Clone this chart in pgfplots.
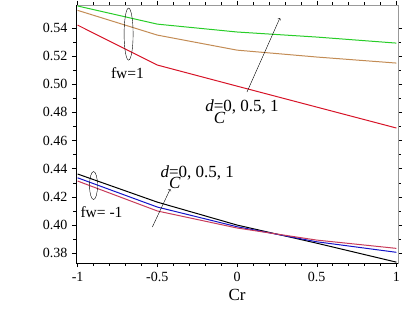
\documentclass[border=0pt]{standalone}
\usepackage{fontspec}
\setmainfont{Liberation Serif}
\usepackage{pgfplots}
\pgfplotsset{compat=1.18}
\definecolor{cgreen}{RGB}{40,205,40}
\definecolor{cbrown}{RGB}{195,140,85}
\definecolor{cred}{RGB}{215,20,40}
\definecolor{cblue}{RGB}{20,20,200}
\definecolor{cpink}{RGB}{200,60,90}
\begin{document}
\begin{tikzpicture}[x=1bp,y=1bp]
\begin{axis}[
  scale only axis, width=322bp, height=258bp,
  xmin=-1.01, xmax=1.01, ymin=0.3729, ymax=0.5564,
  xtick={-1,-0.5,0,0.5,1},
  ytick={0.38,0.40,0.42,0.44,0.46,0.48,0.50,0.52,0.54},
  minor x tick num=4, minor y tick num=1,
  tick align=outside, major tick length=4bp, minor tick length=2.5bp,
  tick style={black, thin},
  axis line style={gray!80, thin},
  /pgf/number format/assume math mode=true,
  yticklabel style={/pgf/number format/fixed, /pgf/number format/fixed zerofill, /pgf/number format/precision=2},
  tick label style={font=\fontsize{14bp}{16bp}\selectfont},
  xticklabel style={yshift=-2bp},
  yticklabel style={xshift=-1bp},
  xlabel={Cr},
  xlabel style={font=\fontsize{17bp}{20bp}\selectfont, at={(rel axis cs:0.5,0)}, anchor=center, yshift=-32bp},
  every axis plot/.append style={line width=1bp},
]
\addplot[cgreen] coordinates {(-1,0.5557) (-0.5,0.5428) (0,0.5372) (0.5,0.5336) (1,0.5293)};
\addplot[cbrown] coordinates {(-1,0.5526) (-0.5,0.5350) (0,0.5243) (0.5,0.5194) (1,0.5151)};
\addplot[cred] coordinates {(-1,0.5421) (-0.5,0.5137) (0,0.4987) (0.5,0.4838) (1,0.4689)};
\addplot[black] coordinates {(-1,0.4362) (-0.5,0.4162) (0,0.3999) (0.5,0.3870) (1,0.3735)};
\addplot[cblue] coordinates {(-1,0.4335) (-0.5,0.4127) (0,0.3987) (0.5,0.3880) (1,0.3805)};
\addplot[cpink] coordinates {(-1,0.4312) (-0.5,0.4099) (0,0.3978) (0.5,0.3892) (1,0.3833)};
% black left and bottom axis lines
\draw[black, thin] (rel axis cs:0,1) -- (rel axis cs:0,0) -- (rel axis cs:1,0);
% annotations
\draw[black, thin] (axis cs:-0.68,0.5357) ellipse [x radius=4.5bp, y radius=26bp];
\node[font=\fontsize{15.5bp}{18bp}\selectfont] at (axis cs:-0.687,0.508) {fw=1};
\draw[black, thin, ->] (axis cs:0.0625,0.4945) -- (axis cs:0.269,0.5471);
\node[anchor=base west, inner sep=0pt, font=\fontsize{17bp}{20bp}\selectfont] at (axis cs:-0.2,0.4803)
  {\textit{d}\rlap{\raisebox{-1.5ex}{\textit{C}}}=0, 0.5, 1};
\draw[black, thin] (axis cs:-0.9,0.428) ellipse [x radius=4bp, y radius=14bp];
\node[font=\fontsize{15.5bp}{18bp}\selectfont] at (axis cs:-0.85,0.409) {fw= -1};
\draw[black, thin, ->] (axis cs:-0.531,0.3985) -- (axis cs:-0.419,0.4255);
\node[anchor=base west, inner sep=0pt, font=\fontsize{17bp}{20bp}\selectfont] at (axis cs:-0.481,0.434)
  {\textit{d}\rlap{\raisebox{-1.5ex}{\textit{C}}}=0, 0.5, 1};
\node[anchor=east, inner sep=0pt, font=\fontsize{15.5bp}{18bp}\selectfont] at ([xshift=-34bp]rel axis cs:0,0.469) {-θ'(0)};
\end{axis}
\pgfresetboundingbox
\path[use as bounding box] (-76bp,-46bp) rectangle (329bp,263bp);
\end{tikzpicture}
\end{document}
